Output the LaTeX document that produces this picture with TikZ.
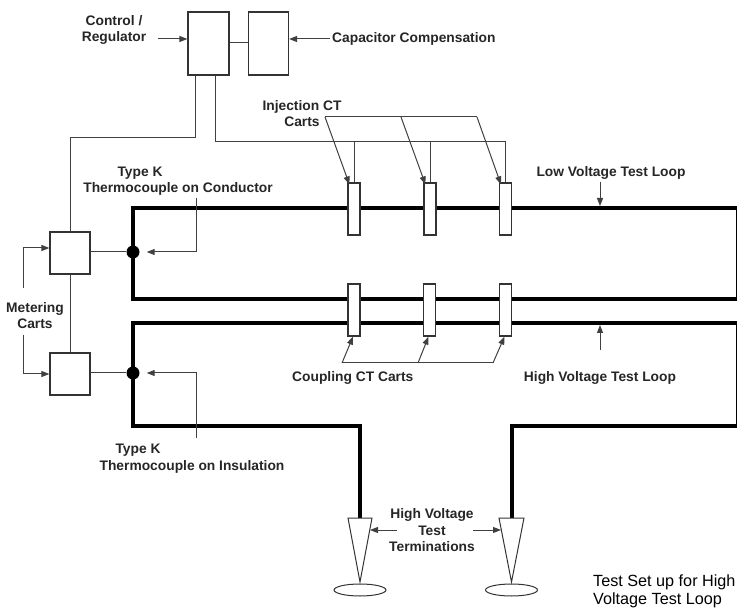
\documentclass[tikz,border=0pt]{standalone}
\usepackage{fontspec}
\setmainfont{Liberation Sans}
\usetikzlibrary{arrows.meta,calc}
\begin{document}
\begin{tikzpicture}[x=1pt,y=-1pt,
  lbl/.style={font=\fontsize{13.8}{16.5}\selectfont\bfseries, inner sep=0pt, align=center, text=black!85},
  note/.style={font=\fontsize{16.2}{17.5}\selectfont, inner sep=0pt, align=left},
  box/.style={draw=black!80, line width=1.2pt, fill=white, inner sep=0pt},
  wire/.style={draw=black!75, line width=1pt},
  arr/.style={wire, -{Triangle[length=8pt,width=6pt]}},
  loop/.style={draw=black, line width=4pt, line join=miter},
  dot/.style={circle, fill=black, inner sep=0pt, minimum size=13pt}]
\useasboundingbox (0,0) rectangle (737,612);

% thick test loops
\draw[loop] (133,208) rectangle (737.5,299);
\draw[loop] (360,518) -- (360,426) -- (133,426) -- (133,323) -- (737.5,323) -- (737.5,426) -- (511.5,426) -- (511.5,518);

% boxes
\node[box, minimum width=41pt, minimum height=63pt] (ctrl) at (208.5,43.5) {};
\node[box, minimum width=40pt, minimum height=63pt] (cap) at (268.5,43.5) {};
\node[box, minimum width=40pt, minimum height=42pt] (met1) at (70,253) {};
\node[box, minimum width=40pt, minimum height=42pt] (met2) at (70,374) {};
\node[box, minimum width=12pt, minimum height=52pt] (inj1) at (354,209) {};
\node[box, minimum width=12pt, minimum height=52pt] (inj2) at (430,209) {};
\node[box, minimum width=12pt, minimum height=52pt] (inj3) at (505.5,209) {};
\node[box, minimum width=12pt, minimum height=52pt] (cpl1) at (354,310) {};
\node[box, minimum width=12pt, minimum height=52pt] (cpl2) at (429.5,310) {};
\node[box, minimum width=12pt, minimum height=52pt] (cpl3) at (505.5,310) {};
\node[dot] (tc1) at (133,252) {};
\node[dot] (tc2) at (133,373) {};

% texts
\node[lbl] (ctrltxt) at (114,30) {Control /\\Regulator};
\node[lbl, anchor=west] (captxt) at (332,39) {Capacitor Compensation};
\node[lbl] (injtxt) at (302,113.5) {Injection CT\\Carts};
\node[lbl] (lvtxt) at (611,173) {Low Voltage Test Loop};
\node[lbl] (tk1a) at (140,173) {Type K};
\node[lbl] (tk1b) at (178,189) {Thermocouple on Conductor};
\node[lbl] (mtxt) at (35,315.5) {Metering\\Carts};
\node[lbl, anchor=west] (cpltxt) at (292,378) {Coupling CT Carts};
\node[lbl] (hvtxt) at (600,378) {High Voltage Test Loop};
\node[lbl] (tk2a) at (138,450) {Type K};
\node[lbl] (tk2b) at (192,466.5) {Thermocouple on Insulation};
\node[lbl] (termtxt) at (432,530.5) {High Voltage\\Test\\Terminations};
\node[note, anchor=west] (title) at (593,591.5) {Test Set up for High\\Voltage Test Loop};

% control wiring
\draw[wire] (ctrl.east |- 0,43) -- (cap.west |- 0,43);
\draw[arr] (158,39) -- (ctrl.west |- 0,39);
\draw[arr] (330,39) -- (cap.east |- 0,39);
\draw[wire] ([xshift=8pt]ctrl.south west) |- (70,138) -- (met1.north);
\coordinate (bus) at (505.5,142);
\draw[wire] ([xshift=-14pt]ctrl.south east) |- (bus) -- (inj3.north);
\draw[wire] (inj1.north) -- (inj1.north |- bus);
\draw[wire] (inj2.north) -- (inj2.north |- bus);

% injection arrows
\coordinate (j0) at (325,117);
\coordinate (j1) at (401,117);
\coordinate (j2) at (477,117);
\draw[wire] (j0) -- (j2);
\draw[arr] (j0) -- ([shift={(2pt,-2pt)}]inj1.north west);
\draw[arr] (j1) -- ([shift={(2pt,-2pt)}]inj2.north west);
\draw[arr] (j2) -- ([shift={(2pt,-2pt)}]inj3.north west);

% coupling arrows
\coordinate (k0) at (342,363);
\coordinate (k1) at (418,363);
\coordinate (k2) at (493,363);
\draw[wire] (k0) -- (k2);
\draw[arr] (k0) -- ([xshift=-1pt]cpl1.south);
\draw[arr] (k1) -- ([xshift=-1pt]cpl2.south);
\draw[arr] (k2) -- ([xshift=-1pt]cpl3.south);

% loop arrows
\draw[arr] (600,182) -- (600,206);
\draw[arr] (600,350) -- (600,325);

% metering
\draw[wire] (met1.south) -- (met2.north);
\draw[wire] (met1.east |- tc1) -- (tc1);
\draw[wire] (met2.east |- tc2) -- (tc2);
\draw[arr] (23,288) |- ([yshift=5pt]met1.west);
\draw[arr] (23,335) |- (met2.west);

% thermocouples
\draw[arr, shorten >=7pt] (196,198) |- (tc1);
\draw[arr, shorten >=7pt] (196,438) |- (tc2);

% terminations
\draw[draw=black!80, line width=1pt, fill=white] (348,518) -- (372,518) -- (360,582) -- cycle;
\draw[draw=black!80, line width=1pt] (360,590) ellipse [x radius=26pt, y radius=6pt];
\draw[draw=black!80, line width=1pt, fill=white] (499,518) -- (524,518) -- (511.5,582) -- cycle;
\draw[draw=black!80, line width=1pt] (511.5,590) ellipse [x radius=26pt, y radius=6pt];
\coordinate (tl) at (370,530);
\coordinate (tr) at (501,530);
\draw[arr] (397,530) -- (tl);
\draw[arr] (473,530) -- (tr);
\end{tikzpicture}
\end{document}
